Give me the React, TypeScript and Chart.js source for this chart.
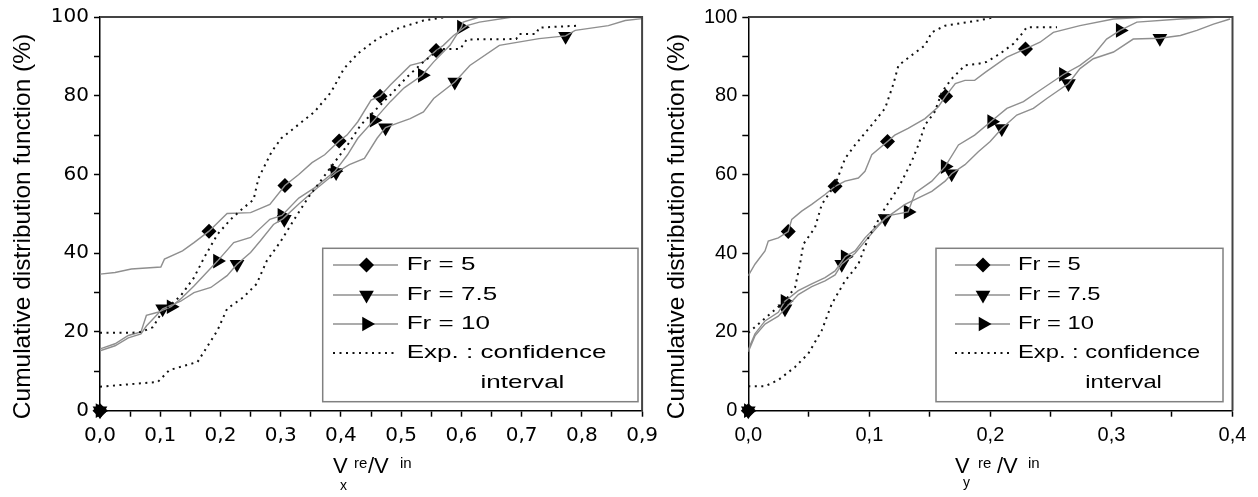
import React, { useEffect, useRef } from 'react';
import { Chart, registerables } from 'chart.js';
Chart.register(...registerables);

const W = 1258;
const H = 497;

// ---------- text ----------
const Y_TITLE = 'Cumulative distribution function (%)';
const LEGEND_LABELS = ['Fr = 5', 'Fr = 7.5', 'Fr = 10', 'Exp. : confidence', 'interval'];
const Y_TICK_LABELS = ['0', '20', '40', '60', '80', '100'];
const L_X_TICK_LABELS = ['0,0', '0,1', '0,2', '0,3', '0,4', '0,5', '0,6', '0,7', '0,8', '0,9'];
const R_X_TICK_LABELS = ['0,0', '0,1', '0,2', '0,3', '0,4'];

// ---------- left panel : Vx re / V in ----------
const L_FR5_X = [0, 0.025, 0.052, 0.101, 0.107, 0.137, 0.156, 0.181, 0.211, 0.25, 0.282, 0.307, 0.33, 0.352, 0.373, 0.397, 0.41, 0.428, 0.45, 0.465, 0.482, 0.515, 0.537, 0.558, 0.57, 0.587, 0.609, 0.63, 0.685];
const L_FR5_Y = [34.7, 35.1, 36, 36.5, 38.5, 40.6, 42.7, 45.6, 50.1, 50.3, 52.4, 57.2, 60, 63, 65, 68.5, 70, 73.4, 78.9, 79.9, 82.7, 87.7, 88.6, 91.5, 92.8, 95.3, 97.8, 98.7, 100];

const L_FR75_X = [0, 0.025, 0.047, 0.068, 0.077, 0.104, 0.134, 0.156, 0.184, 0.211, 0.2275, 0.25, 0.266, 0.288, 0.304, 0.33, 0.36, 0.392, 0.414, 0.439, 0.46, 0.474, 0.493, 0.515, 0.537, 0.554, 0.589, 0.614, 0.663, 0.729, 0.773, 0.789, 0.844, 0.872, 0.9];
const L_FR75_Y = [15.2, 16.5, 18.5, 19.5, 21.5, 25.9, 27.8, 30, 31.3, 34.3, 37.2, 40.2, 43.1, 47.3, 48.8, 52.5, 56.5, 60.5, 62.5, 64.1, 69.2, 71.9, 73, 74.2, 75.9, 79.3, 83.5, 87.7, 92.8, 94.5, 95.2, 96.6, 97.8, 99.1, 99.6];

const L_FR10_X = [0, 0.025, 0.047, 0.068, 0.077, 0.096, 0.118, 0.134, 0.156, 0.195, 0.222, 0.25, 0.282, 0.302, 0.33, 0.356, 0.39, 0.411, 0.428, 0.455, 0.482, 0.505, 0.535, 0.554, 0.581, 0.6, 0.603, 0.63];
const L_FR10_Y = [15.7, 17, 19.1, 20, 24.2, 25, 26.4, 28.4, 31.7, 38, 42.7, 44, 48.6, 49.6, 54, 56.6, 60.8, 65, 69.2, 73.8, 78.5, 82, 85.2, 88.6, 92.8, 97.4, 98.7, 100];

const L_UP_X = [0, 0.052, 0.068, 0.088, 0.101, 0.134, 0.156, 0.173, 0.195, 0.217, 0.238, 0.255, 0.263, 0.285, 0.301, 0.329, 0.356, 0.384, 0.405, 0.428, 0.46, 0.493, 0.537, 0.575];
const L_UP_Y = [19.8, 19.8, 20, 21.2, 24.6, 29.2, 33.8, 38.9, 44.8, 48.6, 51.5, 53.6, 59, 65.8, 69.2, 72.6, 75.9, 81, 86.9, 90.7, 94.4, 97, 99.1, 100];

const L_LO_X = [0, 0.096, 0.115, 0.162, 0.181, 0.195, 0.211, 0.238, 0.26, 0.277, 0.3, 0.32, 0.345, 0.384, 0.411, 0.433, 0.46, 0.482, 0.51, 0.537, 0.565, 0.598, 0.609, 0.691, 0.696, 0.724, 0.729, 0.795];
const L_LO_Y = [6.1, 7.3, 10.3, 12.4, 17, 20.4, 25.9, 28.8, 32.2, 38.1, 43, 48, 54, 62, 67.5, 72.6, 76.8, 80.2, 84.8, 88.6, 91.9, 91.9, 94.3, 94.4, 95.7, 95.7, 97.3, 97.8];

const LM_FR5_X = [0, 0.181, 0.307, 0.397, 0.465, 0.558];
const LM_FR5_Y = [0, 45.6, 57.2, 68.5, 79.9, 91.5];
const LM_FR75_X = [0, 0.104, 0.2275, 0.306, 0.392, 0.474, 0.589, 0.773];
const LM_FR75_Y = [0, 25.9, 37.2, 48.6, 60.5, 71.9, 83.5, 95.1];
const LM_FR10_X = [0, 0.118, 0.195, 0.302, 0.39, 0.455, 0.535, 0.6];
const LM_FR10_Y = [0, 26.4, 38, 49.6, 60.8, 73.8, 85.2, 97.4];

// ---------- right panel : Vy re / V in ----------
const R_FR5_X = [0, 0.0055, 0.0138, 0.0165, 0.0248, 0.033, 0.0359, 0.0441, 0.0524, 0.0634, 0.0717, 0.08, 0.0909, 0.0964, 0.102, 0.115, 0.121, 0.132, 0.146, 0.157, 0.163, 0.171, 0.179, 0.187, 0.196, 0.2136, 0.229, 0.241, 0.252, 0.274, 0.3017, 0.33];
const R_FR5_Y = [34.3, 37.2, 40.6, 43.1, 43.9, 45.5, 48.6, 50.7, 52.4, 54.9, 57, 58.3, 59.1, 60.8, 65, 68.4, 70, 71.7, 74.2, 77.2, 79.9, 83.1, 83.9, 83.9, 86, 89.8, 91.9, 93.6, 96.1, 97.8, 99.5, 100];

const R_FR75_X = [0, 0.0055, 0.0138, 0.0248, 0.0303, 0.0413, 0.0524, 0.0634, 0.0717, 0.0772, 0.0882, 0.0964, 0.1047, 0.113, 0.1295, 0.1516, 0.1626, 0.168, 0.179, 0.19, 0.1998, 0.2094, 0.2218, 0.2355, 0.2466, 0.2645, 0.274, 0.285, 0.3017, 0.318, 0.34, 0.357, 0.3706, 0.3843, 0.398];
const R_FR75_Y = [15, 19, 22, 24, 25.9, 29.5, 31.5, 33, 34.5, 37.2, 40, 43, 46, 48.8, 52.4, 55.7, 58.3, 60.2, 62.5, 65.8, 68.4, 71.7, 75.1, 76.8, 79.3, 83.1, 86.9, 89.4, 91.1, 94.4, 94.6, 95.3, 96.6, 98.2, 99.5];

const R_FR10_X = [0, 0.0055, 0.0138, 0.0248, 0.0303, 0.0413, 0.0524, 0.0634, 0.0717, 0.08, 0.0882, 0.0964, 0.1047, 0.115, 0.132, 0.1378, 0.1516, 0.1626, 0.1736, 0.187, 0.201, 0.2136, 0.2273, 0.241, 0.2603, 0.274, 0.285, 0.296, 0.3072, 0.321, 0.357, 0.39];
const R_FR10_Y = [15.5, 19.5, 22.8, 25, 27.8, 30.5, 32.2, 33.8, 35.5, 39.1, 40.6, 43.9, 46.5, 49.5, 50.5, 55.3, 58.3, 62, 67.5, 70, 73.6, 76.8, 78.5, 81.4, 85.4, 87.7, 90.3, 94.4, 96.6, 98.7, 99.5, 100];

const R_UP_X = [0, 0.03, 0.0386, 0.0427, 0.0455, 0.0551, 0.0607, 0.0717, 0.08, 0.0882, 0.102, 0.113, 0.12, 0.124, 0.135, 0.146, 0.1516, 0.1626, 0.19, 0.204];
const R_UP_Y = [19.8, 27.8, 31.3, 37.2, 42.3, 46.5, 52.4, 57.4, 64.1, 67.5, 72.6, 76.8, 83.1, 87.7, 90.3, 92.8, 96.1, 97.8, 99.1, 100];

const R_LO_X = [0, 0.0138, 0.0248, 0.0386, 0.0496, 0.0607, 0.0689, 0.08, 0.0909, 0.0992, 0.113, 0.124, 0.135, 0.1405, 0.146, 0.154, 0.16, 0.168, 0.179, 0.19, 0.197, 0.208, 0.219, 0.227, 0.23, 0.255];
const R_LO_Y = [6.2, 6.2, 7.8, 11.1, 14.5, 20.4, 27.1, 33, 37.2, 43.9, 51.5, 56.6, 63.3, 67.5, 72.6, 75.9, 81, 84.3, 87.7, 88.1, 88.6, 90.7, 93.2, 96.1, 97.4, 97.4];

const RM_FR5_X = [0, 0.033, 0.0717, 0.115, 0.163, 0.229];
const RM_FR5_Y = [0, 45.5, 57, 68.4, 79.9, 91.9];
const RM_FR75_X = [0, 0.0303, 0.0772, 0.113, 0.168, 0.2094, 0.2645, 0.34];
const RM_FR75_Y = [0, 25.9, 37.2, 48.8, 60.2, 71.7, 83.1, 94.6];
const RM_FR10_X = [0, 0.0303, 0.08, 0.132, 0.1626, 0.201, 0.2603, 0.3072];
const RM_FR10_Y = [0, 27.8, 39.1, 50.5, 62, 73.4, 85.4, 96.6];

// ---------- helpers ----------
type Pt = { x: number; y: number };
const zip = (xs: number[], ys: number[]): Pt[] => xs.map((x, i) => ({ x, y: ys[i] }));

const GRAY = '#8f8f8f';
const DOT = [2, 4.5];
const LEG = '"Liberation Sans", Arial, sans-serif';

interface PanelCfg {
  canvasW: number;
  padRight: number;
  axisW: number;
  xMax: number;
  xLabels: string[];
  tickFamily: string;
  fr5: Pt[]; fr75: Pt[]; fr10: Pt[]; up: Pt[]; lo: Pt[];
  m5: Pt[]; m75: Pt[]; m10: Pt[];
  yTitleX: number;
  xt: { x0: number; sub: string; subDx: number; subBase: number; re: number; sl: number; inn: number };
  lg: { bx: number; by: number; bw: number; bh: number; s0: number; s1: number; mk: number; tx: number; sc: number };
}

function diamond(ctx: CanvasRenderingContext2D, x: number, y: number, r: number) {
  ctx.beginPath();
  ctx.moveTo(x, y - r); ctx.lineTo(x + r, y); ctx.lineTo(x, y + r); ctx.lineTo(x - r, y);
  ctx.closePath(); ctx.fill();
}
function triDown(ctx: CanvasRenderingContext2D, x: number, y: number, r: number) {
  ctx.beginPath();
  ctx.moveTo(x, y + r); ctx.lineTo(x + r * 0.866, y - r / 2); ctx.lineTo(x - r * 0.866, y - r / 2);
  ctx.closePath(); ctx.fill();
}
function triRight(ctx: CanvasRenderingContext2D, x: number, y: number, r: number) {
  ctx.beginPath();
  ctx.moveTo(x + r, y); ctx.lineTo(x - r / 2, y + r * 0.866); ctx.lineTo(x - r / 2, y - r * 0.866);
  ctx.closePath(); ctx.fill();
}
function hText(ctx: CanvasRenderingContext2D, t: string, x: number, y: number, s: number) {
  ctx.save(); ctx.translate(x, y); ctx.scale(s, 1); ctx.fillText(t, 0, 0); ctx.restore();
}

function decor(p: PanelCfg) {
  return {
    id: 'decor',
    afterDraw(chart: any) {
      const ctx: CanvasRenderingContext2D = chart.ctx;
      const a = chart.chartArea;
      ctx.save();
      // frame top + right
      ctx.strokeStyle = '#444'; ctx.lineWidth = 2;
      ctx.beginPath(); ctx.moveTo(a.left, a.top); ctx.lineTo(a.right, a.top); ctx.lineTo(a.right, a.bottom); ctx.stroke();
      ctx.fillStyle = '#000';
      // y title
      ctx.save();
      ctx.font = `24.5px ${LEG}`;
      ctx.textAlign = 'center'; ctx.textBaseline = 'middle';
      ctx.translate(p.yTitleX, 226.5); ctx.rotate(-Math.PI / 2);
      ctx.fillText(Y_TITLE, 0, 0);
      ctx.restore();
      // x title
      ctx.textAlign = 'left'; ctx.textBaseline = 'alphabetic';
      const xt = p.xt;
      ctx.font = `22px ${LEG}`; hText(ctx, 'V', xt.x0, 473, 1);
      ctx.font = `14px ${LEG}`; hText(ctx, xt.sub, xt.x0 + xt.subDx, xt.subBase, 1);
      ctx.font = `15px ${LEG}`; hText(ctx, 're', xt.x0 + xt.re, 468, 1);
      ctx.font = `22px ${LEG}`; hText(ctx, '/V', xt.x0 + xt.sl, 473, 1);
      ctx.font = `15px ${LEG}`; hText(ctx, 'in', xt.x0 + xt.inn, 468, 1);
      // legend
      const L = p.lg;
      ctx.fillStyle = '#fff'; ctx.fillRect(L.bx, L.by, L.bw, L.bh);
      ctx.strokeStyle = '#808080'; ctx.lineWidth = 1.5; ctx.strokeRect(L.bx, L.by, L.bw, L.bh);
      const rows = [265, 295, 324, 353];
      for (let i = 0; i < 4; i++) {
        const y = rows[i];
        ctx.beginPath(); ctx.moveTo(L.s0, y); ctx.lineTo(L.s1, y);
        if (i < 3) { ctx.setLineDash([]); ctx.strokeStyle = GRAY; ctx.lineWidth = 1.4; }
        else { ctx.setLineDash(DOT); ctx.strokeStyle = '#111'; ctx.lineWidth = 2; }
        ctx.stroke();
        ctx.setLineDash([]);
        ctx.fillStyle = '#000';
        if (i === 0) diamond(ctx, L.mk, y, 7.5);
        if (i === 1) triDown(ctx, L.mk, y, 8.5);
        if (i === 2) triRight(ctx, L.mk, y, 8.5);
      }
      ctx.fillStyle = '#000';
      ctx.font = `19px ${LEG}`; ctx.textBaseline = 'middle';
      for (let i = 0; i < 4; i++) hText(ctx, LEGEND_LABELS[i], L.tx, rows[i], L.sc);
      const off = ctx.measureText('Exp. : ').width * L.sc;
      hText(ctx, LEGEND_LABELS[4], L.tx + off, 383, L.sc);
      ctx.restore();
    },
  };
}

function Panel({ p, left }: { p: PanelCfg; left: number }) {
  const ref = useRef<HTMLCanvasElement>(null);
  useEffect(() => {
    const lineDs = (data: Pt[], dotted: boolean) => ({
      data, showLine: true, fill: false, tension: 0,
      borderColor: dotted ? '#111' : GRAY, borderWidth: dotted ? 2 : 1.4,
      borderDash: dotted ? DOT : [], pointRadius: 0, pointHoverRadius: 0,
    });
    const markDs = (data: Pt[], style: string, rot: number, r: number) => ({
      data, showLine: false, clip: false as any,
      pointStyle: style, pointRotation: rot, pointRadius: r, pointHoverRadius: r,
      pointBackgroundColor: '#000', pointBorderColor: '#000', pointBorderWidth: 0,
    });
    const tickFont = { family: p.tickFamily, size: 20 };
    const chart = new Chart(ref.current as HTMLCanvasElement, {
      type: 'scatter',
      data: {
        datasets: [
          lineDs(p.up, true), lineDs(p.lo, true),
          lineDs(p.fr5, false), lineDs(p.fr75, false), lineDs(p.fr10, false),
          markDs(p.m5, 'rectRot', 0, 7.5), markDs(p.m75, 'triangle', 180, 8.5), markDs(p.m10, 'triangle', 90, 8.5),
        ] as any,
      },
      options: {
        animation: false, responsive: false, maintainAspectRatio: false, events: [],
        layout: { autoPadding: false, padding: { left: 0, top: 14.7, right: p.padRight, bottom: 0 } } as any,
        plugins: { legend: { display: false }, tooltip: { enabled: false }, title: { display: false } },
        scales: {
          x: {
            type: 'linear', min: 0, max: p.xMax,
            afterFit: (s: any) => { s.height = H - 410.7; },
            ticks: {
              stepSize: 0.05, autoSkip: false, maxRotation: 0, minRotation: 0, padding: 7,
              color: '#000', font: tickFont,
              callback: (v: any) => { const r = Math.round(Number(v) * 100); return r % 10 === 0 ? (p.xLabels[r / 10] ?? '') : ''; },
            },
            grid: { drawOnChartArea: false, drawTicks: true, tickLength: 6, tickColor: '#000', tickWidth: 1.5 },
            border: { display: true, color: '#000', width: 1.5 },
          },
          y: {
            type: 'linear', min: 0, max: 100,
            afterFit: (s: any) => { s.width = p.axisW; },
            ticks: {
              stepSize: 10, autoSkip: false, padding: 5, color: '#000', font: tickFont,
              callback: (v: any) => { const n = Math.round(Number(v)); return n % 20 === 0 ? Y_TICK_LABELS[n / 20] : ''; },
            },
            grid: { drawOnChartArea: false, drawTicks: true, tickLength: 6, tickColor: '#000', tickWidth: 1.5 },
            border: { display: true, color: '#000', width: 1.5 },
          },
        },
      } as any,
      plugins: [decor(p)],
    });
    return () => chart.destroy();
  }, []);
  return (
    <canvas ref={ref} width={p.canvasW} height={H}
      style={{ position: 'absolute', left, top: 0, width: p.canvasW, height: H, display: 'block' }} />
  );
}

const LEFT_W = 665;
const RIGHT_W = W - LEFT_W;

const leftCfg: PanelCfg = {
  canvasW: LEFT_W, padRight: LEFT_W - 647, axisW: 100, xMax: 0.9, xLabels: L_X_TICK_LABELS,
  tickFamily: '"DejaVu Sans", sans-serif',
  fr5: zip(L_FR5_X, L_FR5_Y), fr75: zip(L_FR75_X, L_FR75_Y), fr10: zip(L_FR10_X, L_FR10_Y),
  up: zip(L_UP_X, L_UP_Y), lo: zip(L_LO_X, L_LO_Y),
  m5: zip(LM_FR5_X, LM_FR5_Y), m75: zip(LM_FR75_X, LM_FR75_Y), m10: zip(LM_FR10_X, LM_FR10_Y),
  yTitleX: 23,
  xt: { x0: 333, sub: 'x', subDx: 7, subBase: 490, re: 21, sl: 35, inn: 67 },
  lg: { bx: 322.7, by: 248.3, bw: 315.3, bh: 153.4, s0: 333, s1: 398, mk: 366.5, tx: 406.7, sc: 1.37 },
};

const rightCfg: PanelCfg = {
  canvasW: RIGHT_W, padRight: RIGHT_W - (1232.5 - LEFT_W), axisW: 748.3 - LEFT_W, xMax: 0.4, xLabels: R_X_TICK_LABELS,
  tickFamily: '"Liberation Sans", Arial, sans-serif',
  fr5: zip(R_FR5_X, R_FR5_Y), fr75: zip(R_FR75_X, R_FR75_Y), fr10: zip(R_FR10_X, R_FR10_Y),
  up: zip(R_UP_X, R_UP_Y), lo: zip(R_LO_X, R_LO_Y),
  m5: zip(RM_FR5_X, RM_FR5_Y), m75: zip(RM_FR75_X, RM_FR75_Y), m10: zip(RM_FR10_X, RM_FR10_Y),
  yTitleX: 677.5 - LEFT_W,
  xt: { x0: 955 - LEFT_W, sub: 'y', subDx: 8, subBase: 487, re: 23, sl: 42, inn: 73 },
  lg: { bx: 936 - LEFT_W, by: 248.3, bw: 287, bh: 153.4, s0: 955 - LEFT_W, s1: 1010 - LEFT_W, mk: 983 - LEFT_W, tx: 1018 - LEFT_W, sc: 1.25 },
};

export default function App() {
  return (
    <div style={{ position: 'absolute', left: 0, top: 0, width: W, height: H, background: '#fff', overflow: 'hidden' }}>
      <Panel p={leftCfg} left={0} />
      <Panel p={rightCfg} left={LEFT_W} />
    </div>
  );
}
